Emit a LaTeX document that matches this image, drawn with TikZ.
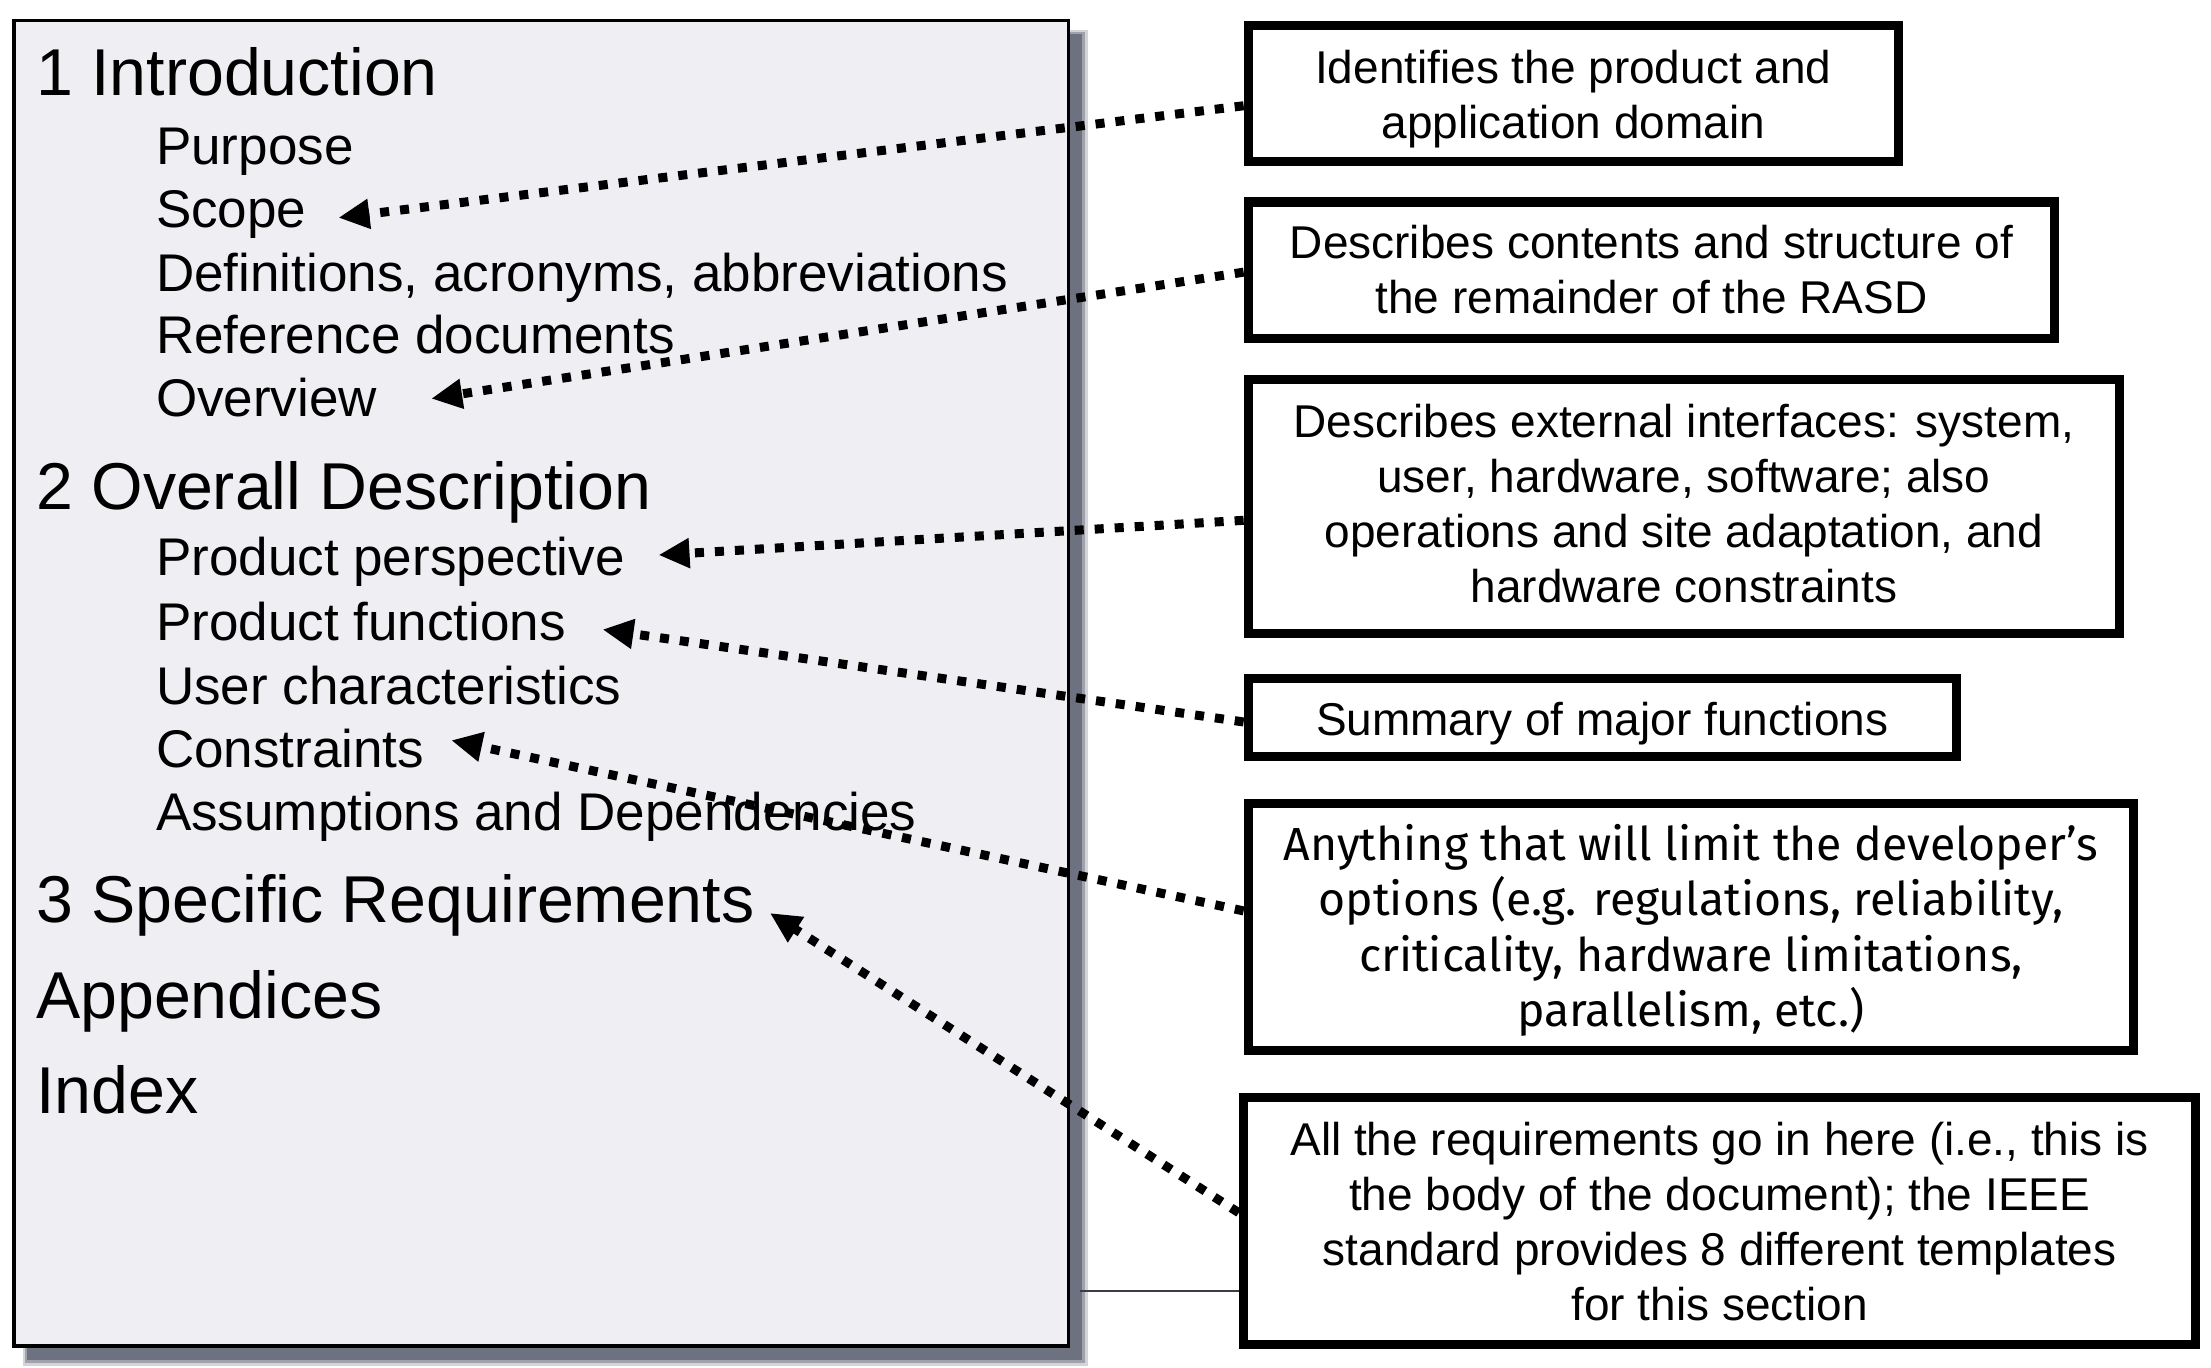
\documentclass[tikz,border=0pt]{standalone}
\usepackage{fontspec}
\setmainfont{Liberation Sans}
\newfontfamily\firafont{Fira Sans}
\usetikzlibrary{arrows.meta}
\definecolor{docfill}{HTML}{EFEEF2}
\definecolor{shadowc}{HTML}{6D7180}
\definecolor{thinc}{HTML}{3A3D48}
\begin{document}
\begin{tikzpicture}[x=1pt,y=-1pt,
  head/.style={anchor=base west, inner sep=0pt, font=\fontsize{47}{52}\selectfont},
  item/.style={anchor=base west, inner sep=0pt, font=\fontsize{37.6}{44}\selectfont},
  note/.style={draw, line width=6.5pt, inner sep=0pt},
  notetext/.style={align=center, inner sep=0pt, font=\fontsize{32.6}{39}\selectfont},
  link/.style={line width=6.4pt, dash pattern=on 6.4pt off 7.8pt, -{Triangle[length=22pt,width=20pt]}},
]
\useasboundingbox (0,0) rectangle (1568,970);
\fill[white] (0,0) rectangle (1568,970);
% shadow of the document page
\fill[shadowc, opacity=0.3] (16,21) rectangle (771.5,968.5);
\fill[shadowc, opacity=0.5] (17.5,22.5) rectangle (769.5,966.5);
\fill[shadowc] (19,24) rectangle (767,964.5);
% document page
\node[draw, fill=docfill, line width=2.4pt, minimum width=747.7pt, minimum height=940pt, inner sep=0pt] (doc) at (383.85,484.5) {};
% contents
\node[head] (h1) at (25.5,67.5) {1 Introduction};
\node[item] (purpose) at (110.5,117) {Purpose};
\node[item] (scope) at (110.5,161.5) {Scope};
\node[item] (defs) at (110.5,206.5) {Definitions, acronyms, abbreviations};
\node[item] (refs) at (110.5,251) {Reference documents};
\node[item] (over) at (110.5,295.5) {Overview};
\node[head] (h2) at (25.5,361) {2 Overall Description};
\node[item] (persp) at (110.5,408) {Product perspective};
\node[item] (func) at (110.5,454.5) {Product functions};
\node[item] (user) at (110.5,499.5) {User characteristics};
\node[item] (cons) at (110.5,544.5) {Constraints};
\node[item] (assum) at (110.5,589) {Assumptions and Dependencies};
\node[head] (h3) at (25.5,654) {3 Specific Requirements};
\node[head] (app) at (25.5,722) {Appendices};
\node[head] (idx) at (25.5,790) {Index};
% note boxes
\node[note, minimum width=461pt, minimum height=96.6pt] (b1) at (1115.7,66.5) {};
\node[note, minimum width=572pt, minimum height=96.6pt] (b2) at (1171.2,191.5) {};
\node[note, minimum width=618pt, minimum height=180pt] (b3) at (1194.2,359.2) {};
\node[note, minimum width=502pt, minimum height=55.5pt] (b4) at (1136.2,509) {};
\node[note, minimum width=628pt, minimum height=175pt] (b5) at (1199.2,657.2) {};
\node[note, minimum width=675.5pt, minimum height=175.5pt] (b6) at (1219.5,866) {};
% note texts
\node[notetext] (t1) at ([yshift=-3.5pt]b1.center) {Identifies the product and\\application domain};
\node[notetext] (t2) at (b2.center) {Describes contents and structure of\\the remainder of the RASD};
\node[notetext] (t3) at ([yshift=2pt]b3.center) {Describes external interfaces: system,\\user, hardware, software; also\\operations and site adaptation, and\\hardware constraints};
\node[notetext] (t4) at ([yshift=-4.5pt]b4.center) {Summary of major functions};
\node[notetext, font=\firafont\fontsize{32.9}{39.2}\selectfont] (t5) at ([yshift=-2.5pt]b5.center) {Anything that will limit the developer’s\\options (e.g. regulations, reliability,\\criticality, hardware limitations,\\parallelism, etc.)};
\node[notetext] (t6) at (b6.center) {All the requirements go in here (i.e., this is\\the body of the document); the IEEE\\standard provides 8 different templates\\for this section};
% arrow targets
\coordinate (aScope) at (240,154.4);
\coordinate (aOver) at (305.8,282.7);
\coordinate (aPersp) at (467,393.6);
\coordinate (aFunc) at (427.3,446.4);
\coordinate (aCons) at (320,525);
\coordinate (aSpec) at (546,647.5);
\coordinate (thinL) at (766,915.5);
% thin line
\draw[thinc, line width=1.4pt] (thinL) -- (thinL -| b6.west);
% connectors
\draw[link] ([yshift=-8.5pt]b1.west) -- (aScope);
\draw[link] ([yshift=-1.5pt]b2.west) -- (aOver);
\draw[link] ([yshift=-9.8pt]b3.west) -- (aPersp);
\draw[link] ([yshift=-3pt]b4.west) -- (aFunc);
\draw[link] ([yshift=11.2pt]b5.west) -- (aCons);
\draw[link] ([yshift=6pt]b6.west) -- (aSpec);
\end{tikzpicture}
\end{document}
